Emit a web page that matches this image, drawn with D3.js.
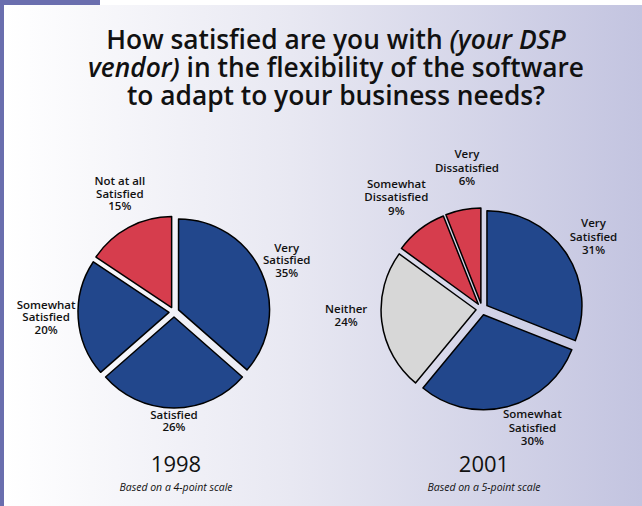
<!DOCTYPE html>
<html>
<head>
<meta charset="utf-8">
<script src="https://cdn.jsdelivr.net/npm/d3@7"></script>
<style>
  html, body { margin: 0; padding: 0; background: #fff; }
  svg { display: block; }
</style>
</head>
<body>
<svg id="chart"></svg>
<script>
// data (text between * is italic)
var titleLines = ["How satisfied are you with *(your DSP*", "*vendor)* in the flexibility of the software", "to adapt to your business needs?"];
var years = ["1998", "2001"];
var scaleNotes = ["Based on a 4-point scale", "Based on a 5-point scale"];

var labels1998 = ["Very|Satisfied", "Satisfied", "Somewhat|Satisfied", "Not at all|Satisfied"];
var values1998 = [35, 26, 20, 15];
var kinds1998 = ["pos", "pos", "pos", "neg"];

var labels2001 = ["Very|Satisfied", "Somewhat|Satisfied", "Neither", "Somewhat|Dissatisfied", "Very|Dissatisfied"];
var values2001 = [31, 30, 24, 9, 6];
var kinds2001 = ["pos", "pos", "mid", "neg", "neg"];

var W = 642, H = 506;
var colors = { pos: "#22478c", neg: "#d63d4d", mid: "#d7d7d7" };
var font = "'Open Sans', sans-serif";

var svg = d3.select("#chart").attr("width", W).attr("height", H);

// background
var defs = svg.append("defs");
var grad = defs.append("linearGradient").attr("id", "bg").attr("x1", 0).attr("x2", 1).attr("y1", 0).attr("y2", 0);
grad.append("stop").attr("offset", "0%").attr("stop-color", "#ffffff");
grad.append("stop").attr("offset", "45%").attr("stop-color", "#e8e8f2");
grad.append("stop").attr("offset", "100%").attr("stop-color", "#c3c4e0");

svg.append("rect").attr("width", W).attr("height", H).attr("fill", "#fff");
svg.append("rect").attr("x", 4).attr("y", 5).attr("width", W - 4).attr("height", H - 5).attr("fill", "url(#bg)");
svg.append("rect").attr("x", 0).attr("y", 0).attr("width", 4).attr("height", H).attr("fill", "#6a6eae");
svg.append("rect").attr("x", 0).attr("y", 0).attr("width", 100).attr("height", 5).attr("fill", "#6a6eae");

// title
var title = svg.append("text")
    .attr("text-anchor", "middle")
    .attr("font-family", font)
    .attr("font-weight", 600)
    .attr("font-size", 23)
    .attr("fill", "#111");
var rows = [];
titleLines.forEach(function(line, i) {
    var row = title.append("tspan").attr("x", 336).attr("y", 49 + i * 28);
    line.split("*").forEach(function(part, j) {
        if (!part) return;
        row.append("tspan").text(part).attr("font-style", j % 2 ? "italic" : "normal");
    });
    rows.push(row);
});
// size the title so the longest line spans about 496px, as in the original
var longest = d3.max(rows, function(r) { return r.node().getComputedTextLength(); });
title.attr("font-size", 23 * 496 / longest);

function drawPie(cx, cy, r, explode, labels, values, kinds, labelLayout, lineH, year, note) {
    var pie = d3.pie().sort(null).value(function(d) { return d; });
    var arcs = pie(values);
    var arc = d3.arc().innerRadius(0).outerRadius(r);
    var g = svg.append("g").attr("transform", "translate(" + cx + "," + cy + ")");

    g.selectAll("path")
        .data(arcs)
        .enter()
        .append("path")
        .attr("d", arc)
        .attr("fill", function(d, i) { return colors[kinds[i]]; })
        .attr("stroke", "#000")
        .attr("stroke-width", 1.5)
        .attr("stroke-linejoin", "round")
        .attr("transform", function(d) {
            var a = (d.startAngle + d.endAngle) / 2;
            return "translate(" + (explode * Math.sin(a)) + "," + (-explode * Math.cos(a)) + ")";
        });

    var lab = g.selectAll("text.lab")
        .data(arcs)
        .enter()
        .append("text")
        .attr("class", "lab")
        .attr("text-anchor", "middle")
        .attr("font-family", font)
        .attr("font-weight", 600)
        .attr("font-size", 11.5)
        .attr("fill", "#111");

    lab.each(function(d, i) {
        var a = (d.startAngle + d.endAngle) / 2 + labelLayout[i][1] * Math.PI / 180;
        var dist = labelLayout[i][0];
        var x = dist * Math.sin(a), y = -dist * Math.cos(a);
        var lines = labels[i].split("|").concat([values[i] + "%"]);
        var y0 = y - (lines.length - 1) * lineH / 2 + 4;
        var t = d3.select(this);
        lines.forEach(function(l, k) {
            t.append("tspan").attr("x", x).attr("y", y0 + k * lineH).text(l);
        });
    });

    svg.append("text")
        .attr("x", cx + 2).attr("y", 472)
        .attr("text-anchor", "middle")
        .attr("font-family", font)
        .attr("font-weight", 500)
        .attr("font-size", 22)
        .attr("fill", "#111")
        .text(year);

    svg.append("text")
        .attr("x", cx + 2).attr("y", 491)
        .attr("text-anchor", "middle")
        .attr("font-family", font)
        .attr("font-style", "italic")
        .attr("font-weight", 500)
        .attr("font-size", 10.5)
        .attr("fill", "#111")
        .text(note);
}

// label layout: [distance from centre, angle nudge in degrees]
var layout1998 = [[124, -0.3], [109, 0], [128, 1.5], [130, 3.5]];
var layout2001 = [[133, 1.2], [129, -8.6], [136, 4.5], [141, 0.4], [142, 4.7]];

drawPie(174, 312, 91, 5, labels1998, values1998, kinds1998, layout1998, 12.5, years[0], scaleNotes[0]);
drawPie(482, 309, 95, 6, labels2001, values2001, kinds2001, layout2001, 13.5, years[1], scaleNotes[1]);
</script>
</body>
</html>
